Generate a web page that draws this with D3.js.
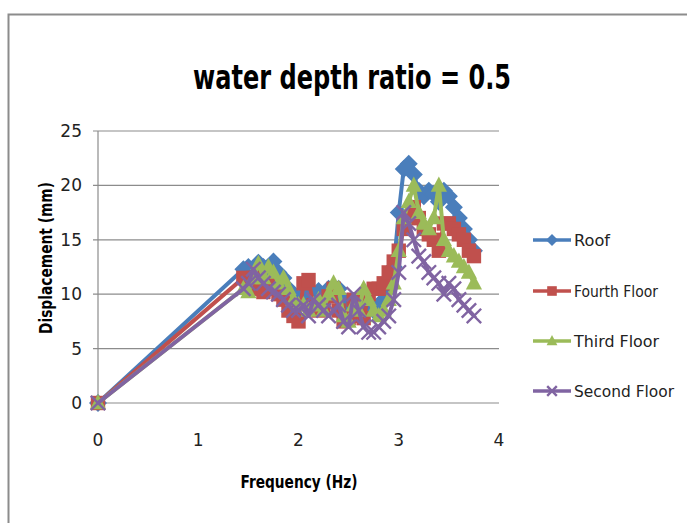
<!DOCTYPE html>
<html>
<head>
<meta charset="utf-8">
<script src="https://cdn.jsdelivr.net/npm/d3@7"></script>
<style>
  body { margin: 0; background: #fff; }
  svg { display: block; }
</style>
</head>
<body>
<script>
// data
const freq = [0, 1.45, 1.5, 1.55, 1.6, 1.65, 1.7, 1.75, 1.8, 1.85, 1.9, 1.95, 2.0, 2.05, 2.1, 2.15, 2.2, 2.25, 2.3, 2.35, 2.4,
  2.45, 2.5, 2.55, 2.6, 2.65, 2.7, 2.75, 2.8, 2.85, 2.9, 2.95, 3.0, 3.05, 3.1, 3.15, 3.2, 3.25, 3.3, 3.35, 3.4, 3.45,
  3.5, 3.55, 3.6, 3.65, 3.7, 3.75];
const roof = [0, 12.3, 12.5, 12.2, 12.9, 12.5, 12.3, 13.0, 12.0, 11.5, 10.5, 10.0, 9.5, 10.0, 10.5, 10.0, 10.3, 9.5, 10.5, 10.2, 10.5,
  9.5, 8.5, 9.0, 8.8, 9.5, 9.0, 8.5, 9.0, 9.5, 10.5, 12.5, 17.5, 21.5, 22.0, 21.0, 19.5, 19.0, 19.5, 19.2, 18.5, 19.5,
  19.0, 18.0, 17.0, 16.0, 15.0, 14.0];
const fourth = [0, 11.5, 11.0, 11.5, 10.5, 10.2, 10.5, 11.0, 10.0, 9.5, 8.5, 8.0, 7.5, 11.0, 11.3, 9.0, 8.5, 9.0, 9.8, 10.5, 8.5,
  7.5, 7.8, 9.5, 8.0, 7.8, 10.0, 10.5, 10.5, 11.0, 12.0, 13.0, 14.0, 16.0, 17.0, 18.0, 17.0, 16.0, 15.5, 15.0, 14.0, 16.5,
  16.5, 16.0, 15.5, 15.0, 14.0, 13.5];
const third = [0, 10.5, 10.2, 11.5, 12.8, 11.5, 12.5, 12.0, 11.0, 11.5, 10.5, 9.5, 9.0, 9.0, 8.5, 9.0, 9.5, 8.5, 10.0, 11.0, 10.5,
  8.0, 7.5, 9.0, 8.5, 10.5, 9.5, 8.5, 8.0, 8.5, 9.5, 11.0, 14.0, 17.0, 18.5, 20.0, 17.5, 16.5, 16.0, 17.0, 20.0, 15.0,
  14.0, 13.5, 13.0, 12.5, 12.0, 11.0];
const second = [0, 10.5, 11.0, 12.3, 11.5, 11.0, 10.5, 10.2, 10.0, 9.5, 9.0, 8.5, 8.5, 9.0, 8.0, 9.5, 9.0, 8.5, 8.0, 8.5, 9.0,
  7.5, 7.0, 10.0, 8.5, 7.0, 6.5, 6.5, 7.0, 7.5, 8.0, 9.5, 12.0, 17.5, 16.5, 15.0, 13.5, 13.0, 12.0, 11.5, 11.0, 10.0,
  11.0, 10.5, 9.5, 9.0, 8.5, 8.0];
const seriesNames = ["Roof", "Fourth Floor", "Third Floor", "Second Floor"];
const seriesValues = [roof, fourth, third, second];
const xTicks = [0, 1, 2, 3, 4];
const yTicks = [0, 5, 10, 15, 20, 25];

const colors = ["#4a7ebb", "#c0504d", "#9bbb59", "#8064a2"];
const shapes = ["diamond", "square", "triangle", "x"];
const font = "'Liberation Sans Narrow', 'DejaVu Sans', sans-serif";

const W = 687, H = 523;
const svg = d3.select("body").append("svg").attr("width", W).attr("height", H);

// chart frame
svg.append("rect").attr("x", 8.5).attr("y", 14.5).attr("width", 700).attr("height", 520)
  .attr("fill", "#fff").attr("stroke", "#8c8c8c").attr("stroke-width", 2);

const x = d3.scaleLinear().domain([0, 4]).range([98, 499]);
const y = d3.scaleLinear().domain([0, 25]).range([403, 131]);

// gridlines
svg.append("g").selectAll("line").data(yTicks).join("line")
  .attr("x1", 93).attr("x2", x(4)).attr("y1", d => y(d)).attr("y2", d => y(d))
  .attr("stroke", "#8c8c8c").attr("stroke-width", 1.2);
svg.append("line").attr("x1", x(0)).attr("x2", x(0)).attr("y1", y(25)).attr("y2", y(0) + 4)
  .attr("stroke", "#8c8c8c").attr("stroke-width", 1.2);

// tick labels
svg.append("g").selectAll("text").data(yTicks).join("text")
  .attr("x", 82).attr("y", d => y(d) + 6).attr("text-anchor", "end")
  .style("font-family", font).style("font-size", "17px").attr("fill", "#222")
  .text(d => d);
svg.append("g").selectAll("text").data(xTicks).join("text")
  .attr("x", d => x(d)).attr("y", 446).attr("text-anchor", "middle")
  .style("font-family", font).style("font-size", "17px").attr("fill", "#222")
  .text(d => d);

// titles
svg.append("text").attr("x", 352).attr("y", 89).attr("text-anchor", "middle")
  .style("font-family", font).style("font-size", "34px").style("font-weight", "bold").attr("fill", "#000")
  .attr("textLength", 318).attr("lengthAdjust", "spacingAndGlyphs")
  .text("water depth ratio = 0.5");
svg.append("text").attr("x", 299).attr("y", 488).attr("text-anchor", "middle")
  .style("font-family", font).style("font-size", "17px").style("font-weight", "bold")
  .attr("textLength", 117).attr("lengthAdjust", "spacingAndGlyphs")
  .text("Frequency (Hz)");
svg.append("text").attr("transform", "translate(52,258) rotate(-90)").attr("text-anchor", "middle")
  .style("font-family", font).style("font-size", "17px").style("font-weight", "bold")
  .attr("textLength", 152).attr("lengthAdjust", "spacingAndGlyphs")
  .text("Displacement (mm)");

function marker(g, shape, color, s) {
  if (shape === "diamond") {
    g.append("path").attr("d", `M0,${-s}L${s},0L0,${s}L${-s},0Z`).attr("fill", color);
  } else if (shape === "square") {
    g.append("rect").attr("x", -s * 0.8).attr("y", -s * 0.8).attr("width", s * 1.6).attr("height", s * 1.6).attr("fill", color);
  } else if (shape === "triangle") {
    g.append("path").attr("d", `M0,${-s}L${s * 0.9},${s * 0.7}L${-s * 0.9},${s * 0.7}Z`).attr("fill", color);
  } else {
    const k = s * 0.8;
    g.append("path").attr("d", `M${-k},${-k}L${k},${k}M${-k},${k}L${k},${-k}`)
      .attr("stroke", color).attr("stroke-width", 2.4).attr("fill", "none");
  }
}

const line = d3.line().x(d => x(d[0])).y(d => y(d[1]));
seriesValues.forEach((vals, i) => {
  const pts = freq.map((f, j) => [f, vals[j]]);
  const g = svg.append("g");
  g.append("path").datum(pts).attr("d", line).attr("fill", "none")
    .attr("stroke", colors[i]).attr("stroke-width", 4).attr("stroke-linejoin", "round");
  pts.forEach(p => {
    const m = g.append("g").attr("transform", `translate(${x(p[0])},${y(p[1])})`);
    marker(m, shapes[i], colors[i], 9);
  });
});

// legend
const legendY = [240, 291, 341, 391];
const legendW = [36, 84, 85, 100];
seriesNames.forEach((name, i) => {
  const g = svg.append("g").attr("transform", `translate(0,${legendY[i]})`);
  g.append("line").attr("x1", 533).attr("x2", 571).attr("y1", 0).attr("y2", 0)
    .attr("stroke", colors[i]).attr("stroke-width", 3.5);
  const m = g.append("g").attr("transform", "translate(552,0)");
  marker(m, shapes[i], colors[i], 6);
  g.append("text").attr("x", 574).attr("y", 6)
    .style("font-family", font).style("font-size", "16px").attr("fill", "#222")
    .attr("textLength", legendW[i]).attr("lengthAdjust", "spacingAndGlyphs")
    .text(name);
});
</script>
</body>
</html>
